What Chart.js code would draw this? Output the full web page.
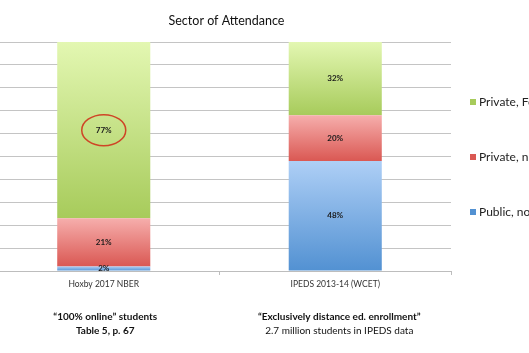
<!DOCTYPE html>
<html>
<head>
<meta charset="utf-8">
<script src="https://cdn.jsdelivr.net/npm/chart.js@4"></script>
<style>
  html, body { margin: 0; padding: 0; background: #fff; overflow: hidden; }
  #wrap { width: 529px; height: 353px; overflow: hidden; }
  #chart { margin-left: -12px; display: block; }
</style>
</head>
<body>
<div id="wrap"><canvas id="chart" width="541" height="353"></canvas></div>
<script>
// 数据
const categories = ['Hoxby 2017 NBER', 'IPEDS 2013-14 (WCET)'];
const seriesNames = ['Public, non-profit', 'Private, non-profit', 'Private, For-profit'];
const publicNonprofit = [2, 48];
const privateNonprofit = [21, 20];
const privateForprofit = [77, 32];
const yTicks = [0, 10, 20, 30, 40, 50, 60, 70, 80, 90, 100];
const noteTitles = ['\u201c100% online\u201d students', '\u201cExclusively distance ed. enrollment\u201d'];
const noteSubs = ['Table 5, p. 67', '2.7 million students in IPEDS data'];
const noteSubBold = [true, false];
const circled = { dataset: 2, index: 0 };

const FONT = 'Lato, "Open Sans", sans-serif';

// 渐变色 (上浅下深)
const gradStops = [
    ['#aecff6', '#5291d2'],
    ['#f6aeac', '#da5853'],
    ['#e3f7b2', '#a7cb5b']
];

const allSeries = [publicNonprofit, privateNonprofit, privateForprofit];

function segmentFill(ctx) {
    const chart = ctx.chart;
    const y = chart.scales && chart.scales.y;
    const di = ctx.datasetIndex;
    if (!y || !chart.chartArea || ctx.dataIndex === undefined) return gradStops[di][1];
    let start = 0;
    for (let k = 0; k < di; k++) start += allSeries[k][ctx.dataIndex];
    const end = start + allSeries[di][ctx.dataIndex];
    const top = y.getPixelForValue(end);
    const bottom = y.getPixelForValue(start);
    if (!isFinite(top) || !isFinite(bottom) || top === bottom) return gradStops[di][1];
    const g = chart.ctx.createLinearGradient(0, top, 0, bottom);
    g.addColorStop(0, gradStops[di][0]);
    g.addColorStop(1, gradStops[di][1]);
    return g;
}

// 额外绘制: 标题, 数值, 图例, 注释
const extras = {
    id: 'extras',
    afterDatasetsDraw(chart) {
        const ctx = chart.ctx;
        const area = chart.chartArea;
        const x = chart.scales.x;
        ctx.save();

        // 标题
        ctx.fillStyle = '#111';
        ctx.font = '12.5px ' + FONT;
        ctx.textAlign = 'center';
        ctx.textBaseline = 'middle';
        ctx.fillText('Sector of Attendance', (area.left + area.right) / 2 + 7, 21);

        // 数值标签
        ctx.font = 'bold 8px ' + FONT;
        ctx.fillStyle = '#1a1a1a';
        chart.data.datasets.forEach((ds, di) => {
            const meta = chart.getDatasetMeta(di);
            meta.data.forEach((el, i) => {
                const cy = (el.y + el.base) / 2;
                ctx.fillText(ds.data[i] + '%', el.x, cy);
                if (di === circled.dataset && i === circled.index) {
                    ctx.strokeStyle = '#cf4526';
                    ctx.lineWidth = 1.5;
                    ctx.beginPath();
                    ctx.ellipse(el.x, cy, 22, 15.5, 0, 0, Math.PI * 2);
                    ctx.stroke();
                }
            });
        });

        // 图例 (逆序)
        const legendY = [102, 157, 212];
        ctx.font = '12px ' + FONT;
        ctx.textAlign = 'left';
        for (let k = 0; k < seriesNames.length; k++) {
            const di = seriesNames.length - 1 - k;
            const ly = legendY[k];
            ctx.fillStyle = gradStops[di][1];
            ctx.fillRect(area.right + 19, ly - 3, 6, 6);
            ctx.fillStyle = '#222';
            ctx.fillText(seriesNames[di], area.right + 28, ly);
        }

        // 注释
        const noteShift = [1.5, 4];
        ctx.textAlign = 'center';
        ctx.fillStyle = '#111';
        categories.forEach((c, i) => {
            const cx = x.getPixelForValue(i) + noteShift[i];
            ctx.font = 'bold 10px ' + FONT;
            ctx.fillText(noteTitles[i], cx, 317);
            ctx.font = (noteSubBold[i] ? 'bold ' : '') + '10px ' + FONT;
            ctx.fillText(noteSubs[i], cx, 331);
        });

        ctx.restore();
    }
};

new Chart(document.getElementById('chart'), {
    type: 'bar',
    data: {
        labels: categories,
        datasets: allSeries.map((data, di) => ({
            label: seriesNames[di],
            data: data,
            backgroundColor: segmentFill,
            borderWidth: 0,
            barPercentage: 0.402,
            categoryPercentage: 1
        }))
    },
    options: {
        responsive: false,
        animation: false,
        events: [],
        layout: { padding: { top: 42, right: 78, left: 0, bottom: 0 } },
        plugins: {
            legend: { display: false },
            title: { display: false },
            tooltip: { enabled: false }
        },
        scales: {
            x: {
                stacked: true,
                grid: {
                    offset: true,
                    drawOnChartArea: false,
                    drawTicks: true,
                    tickLength: 4,
                    color: '#bdbdbd'
                },
                border: { color: '#bdbdbd' },
                ticks: {
                    color: '#333',
                    padding: 4,
                    font: { family: FONT, size: 8.5 }
                },
                afterFit(scale) { scale.height = 82; }
            },
            y: {
                stacked: true,
                min: 0,
                max: 100,
                afterBuildTicks(scale) { scale.ticks = yTicks.map(v => ({ value: v })); },
                ticks: { display: false },
                grid: { color: '#c4c4c4', drawTicks: false },
                border: { display: false },
                afterFit(scale) { scale.width = 0; }
            }
        }
    },
    plugins: [extras]
});
</script>
</body>
</html>
